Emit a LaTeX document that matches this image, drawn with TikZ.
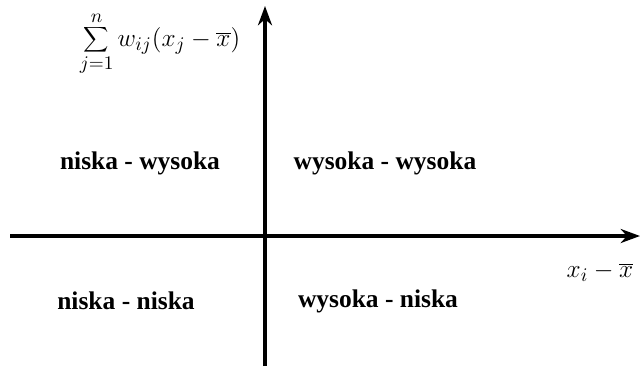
\documentclass[tikz,border=0pt]{standalone}
\usepackage{fontspec}
\setmainfont{Liberation Serif}
\usetikzlibrary{arrows.meta}
\begin{document}
\begin{tikzpicture}[
        x=0.02cm, y=-0.02cm,
        >={Stealth[length=11pt, width=8pt]},
        axis/.style={->, line width=2.6pt},
        quad/.style={font=\fontsize{14.5}{17}\selectfont\bfseries, inner sep=0pt},
        lab/.style={font=\fontsize{15}{17}\selectfont, inner sep=0pt}
    ]
        \useasboundingbox (0, 0) rectangle (640, 366);

        \coordinate (x-start) at (10, 236);
        \coordinate (x-end) at (640, 236);
        \coordinate (y-start) at (265, 366);
        \coordinate (y-end) at (265, 6);

        \draw[axis] (x-start) -- (x-end);
        \draw[axis] (y-start) -- (y-end);

        \node[quad] (nw) at (140, 163) {niska - wysoka};
        \node[quad] (ne) at (385, 163) {wysoka - wysoka};
        \node[quad] (sw) at (126, 301) {niska - niska};
        \node[quad] (se) at (378, 301) {wysoka - niska};

        \node[lab] (x-lab) at (600, 272) {$x_i - \overline{x}$};
        \node[lab] (y-lab) at (160, 44) {$\displaystyle\sum_{j=1}^{n} w_{ij}(x_j - \overline{x})$};
    \end{tikzpicture}
\end{document}
